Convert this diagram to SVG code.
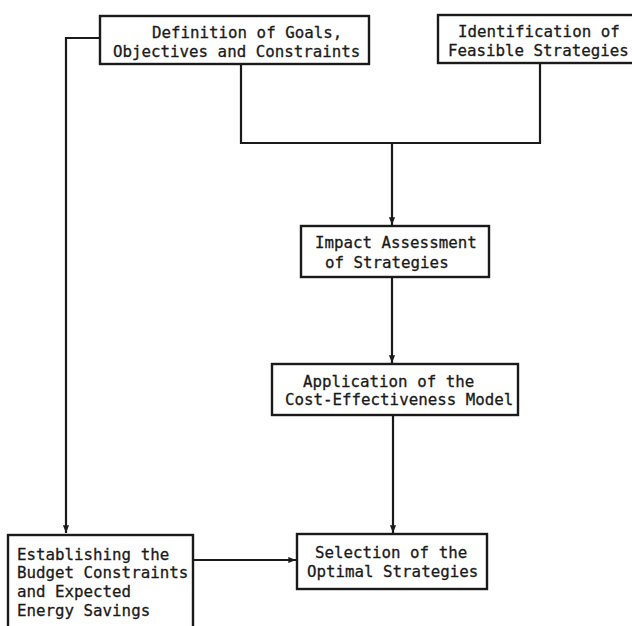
<svg xmlns="http://www.w3.org/2000/svg" width="632" height="626" viewBox="0 0 632 626">
<defs>
<style>
.box{fill:#fff;stroke:#1a1a1a;stroke-width:2.4}
.t{font-family:"DejaVu Sans Mono","Liberation Mono",monospace;font-size:15.8px;fill:#1a1a1a;stroke:#1a1a1a;stroke-width:0.3}
.c{fill:none;stroke:#1a1a1a;stroke-width:2.2}
</style>
<marker id="ah" viewBox="0 0 10 10" refX="10" refY="5" markerWidth="3.5" markerHeight="3.5" orient="auto" markerUnits="strokeWidth">
<path d="M0,1 L10,5 L0,9 z" fill="#1a1a1a"/>
</marker>
</defs>
<rect width="632" height="626" fill="#fff"/>
<g id="connectors">
<path class="c" d="M100,38 H66 V533" marker-end="url(#ah)"/>
<path class="c" d="M241,64 V143 H540 V64"/>
<path class="c" d="M392,143 V225" marker-end="url(#ah)"/>
<path class="c" d="M392,277 V363" marker-end="url(#ah)"/>
<path class="c" d="M393,415 V533" marker-end="url(#ah)"/>
<path class="c" d="M193,560 H296" marker-end="url(#ah)"/>
</g>
<g id="definition">
<rect class="box" x="100" y="16" width="269" height="48"/>
<text class="t" x="152" y="38">Definition of Goals,</text>
<text class="t" x="113" y="57">Objectives and Constraints</text>
</g>
<g id="identification">
<rect class="box" x="438" y="15" width="210" height="48"/>
<text class="t" x="458" y="37">Identification of</text>
<text class="t" x="448" y="56">Feasible Strategies</text>
</g>
<g id="impact">
<rect class="box" x="301" y="226" width="188" height="51"/>
<text class="t" x="315" y="248">Impact Assessment</text>
<text class="t" x="325" y="268">of Strategies</text>
</g>
<g id="application">
<rect class="box" x="272" y="364" width="246" height="51"/>
<text class="t" x="303" y="387">Application of the</text>
<text class="t" x="285" y="405">Cost-Effectiveness Model</text>
</g>
<g id="selection">
<rect class="box" x="297" y="534" width="190" height="55"/>
<text class="t" x="315" y="558">Selection of the</text>
<text class="t" x="307" y="577">Optimal Strategies</text>
</g>
<g id="budget">
<rect class="box" x="8" y="535" width="185" height="100"/>
<text class="t" x="17" y="560">Establishing the</text>
<text class="t" x="17" y="578">Budget Constraints</text>
<text class="t" x="17" y="597">and Expected</text>
<text class="t" x="17" y="616">Energy Savings</text>
</g>
</svg>
